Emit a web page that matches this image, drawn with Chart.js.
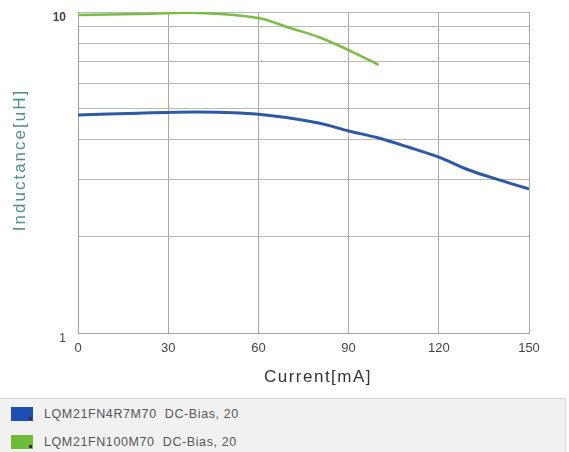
<!DOCTYPE html>
<html>
<head>
<meta charset="utf-8">
<script src="https://cdn.jsdelivr.net/npm/chart.js@4.4.0/dist/chart.umd.min.js"></script>
<style>
  body { margin: 0; background: #fff; font-family: "Liberation Sans", Arial, sans-serif; }
  #wrap { position: relative; width: 569px; height: 398px; }
  #legend { width: 565px; height: 53px; background: #f1f1f1; border-top: 1px solid #d8d8d8; border-right: 1px solid #d8d8d8; padding-top: 1px; }
  .row { height: 28px; display: flex; align-items: center; font-size: 12.5px; letter-spacing: 0.6px; color: #555; }
  .box { width: 22px; height: 14px; margin: 0 11px 0 11px; position: relative; }
  .box span { position: absolute; right: 1px; bottom: 1px; width: 3px; height: 3px; background: #333; }
</style>
</head>
<body>
<div id="wrap"><canvas id="line-chart" width="569" height="398"></canvas></div>
<div id="legend"></div>
<script>
// corriente en mA
var corriente4R7 = [0, 20, 40, 60, 80, 90, 100, 110, 120, 130, 140, 150];
var induct4R7 = [4.78, 4.84, 4.88, 4.8, 4.51, 4.26, 4.05, 3.79, 3.53, 3.22, 3.0, 2.81];
var corriente100 = [0, 20, 40, 60, 70, 80, 90, 100];
var induct100 = [9.79, 9.86, 9.93, 9.58, 8.95, 8.36, 7.61, 6.84];

var etiquetas = ["LQM21FN4R7M70  DC-Bias, 20", "LQM21FN100M70  DC-Bias, 20"];
var colores = ["#2d5aa6", "#79bd45"];
var colorCaja = ["#1d4fb3", "#6cbc3a"];
var ticksX = [0, 30, 60, 90, 120, 150];
var ticksY = [1, 2, 3, 4, 5, 6, 7, 8, 9, 10];

function armaPuntos(xs, ys) {
    var lista = [];
    for (var i = 0; i < xs.length; i++) {
        lista.push({ x: xs[i], y: ys[i] });
    }
    return lista;
}

// quita el relleno que chart.js agrega por las etiquetas
function sinRelleno(axis) {
    axis.paddingTop = 0;
    axis.paddingBottom = 0;
    axis.paddingLeft = 0;
    axis.paddingRight = 0;
}

// titulos de los ejes, no van centrados en el area
var titulos = {
    id: 'titulos',
    afterDraw: function (chart) {
        var ctx = chart.ctx;
        ctx.save();
        ctx.font = '17px "Liberation Sans", Arial, sans-serif';
        ctx.textAlign = 'center';
        ctx.textBaseline = 'middle';
        ctx.letterSpacing = '1.5px';
        ctx.fillStyle = '#333';
        ctx.fillText('Current[mA]', 318, 377);
        ctx.translate(20, 160);
        ctx.rotate(-Math.PI / 2);
        ctx.fillStyle = '#4f8f8c';
        ctx.letterSpacing = '2px';
        ctx.fillText('Inductance[uH]', 0, 0);
        ctx.restore();
    }
};

new Chart(document.getElementById("line-chart"), {
    type: 'line',
    data: {
        datasets: [{
            label: etiquetas[0],
            data: armaPuntos(corriente4R7, induct4R7),
            borderColor: colores[0],
            borderWidth: 3,
            pointRadius: 0,
            tension: 0.3,
            fill: false
        }, {
            label: etiquetas[1],
            data: armaPuntos(corriente100, induct100),
            borderColor: colores[1],
            borderWidth: 2.5,
            pointRadius: 0,
            tension: 0.3,
            fill: false
        }]
    },
    options: {
        responsive: false,
        animation: false,
        layout: { padding: { top: 12, right: 40, left: 0, bottom: 0 } },
        plugins: { legend: { display: false }, tooltip: { enabled: false } },
        scales: {
            x: {
                type: 'linear',
                min: 0, max: 150,
                afterBuildTicks: function (axis) {
                    axis.ticks = ticksX.map(function (v) { return { value: v }; });
                },
                afterFit: function (axis) { axis.height = 65; sinRelleno(axis); },
                grid: { color: '#a8a8a8', lineWidth: 1, drawTicks: false },
                border: { color: '#a0a0a0' },
                ticks: { padding: 8, color: '#444', font: { size: 13, family: '"Liberation Sans", Arial, sans-serif' } }
            },
            y: {
                type: 'logarithmic',
                min: 1, max: 10,
                afterBuildTicks: function (axis) {
                    axis.ticks = ticksY.map(function (v) { return { value: v }; });
                },
                afterFit: function (axis) { axis.width = 78; sinRelleno(axis); },
                grid: { color: '#b8b8b8', lineWidth: 1, drawTicks: false },
                border: { color: '#a0a0a0' },
                ticks: {
                    padding: 12,
                    labelOffset: 6,
                    color: '#444',
                    font: function (c) {
                        var negrita = c.tick && c.tick.value === 10;
                        return { size: 12, weight: negrita ? 'bold' : 'normal', family: '"Liberation Sans", Arial, sans-serif' };
                    },
                    callback: function (v) { return (v === 1 || v === 10) ? String(v) : ''; }
                }
            }
        }
    },
    plugins: [titulos]
});

// leyenda de abajo
var leyenda = document.getElementById('legend');
for (var i = 0; i < etiquetas.length; i++) {
    var fila = document.createElement('div');
    fila.className = 'row';
    fila.innerHTML = '<div class="box" style="background:' + colorCaja[i] + '"><span></span></div>' + etiquetas[i].replace('  ', '&nbsp;&nbsp;');
    leyenda.appendChild(fila);
}
</script>
</body>
</html>
